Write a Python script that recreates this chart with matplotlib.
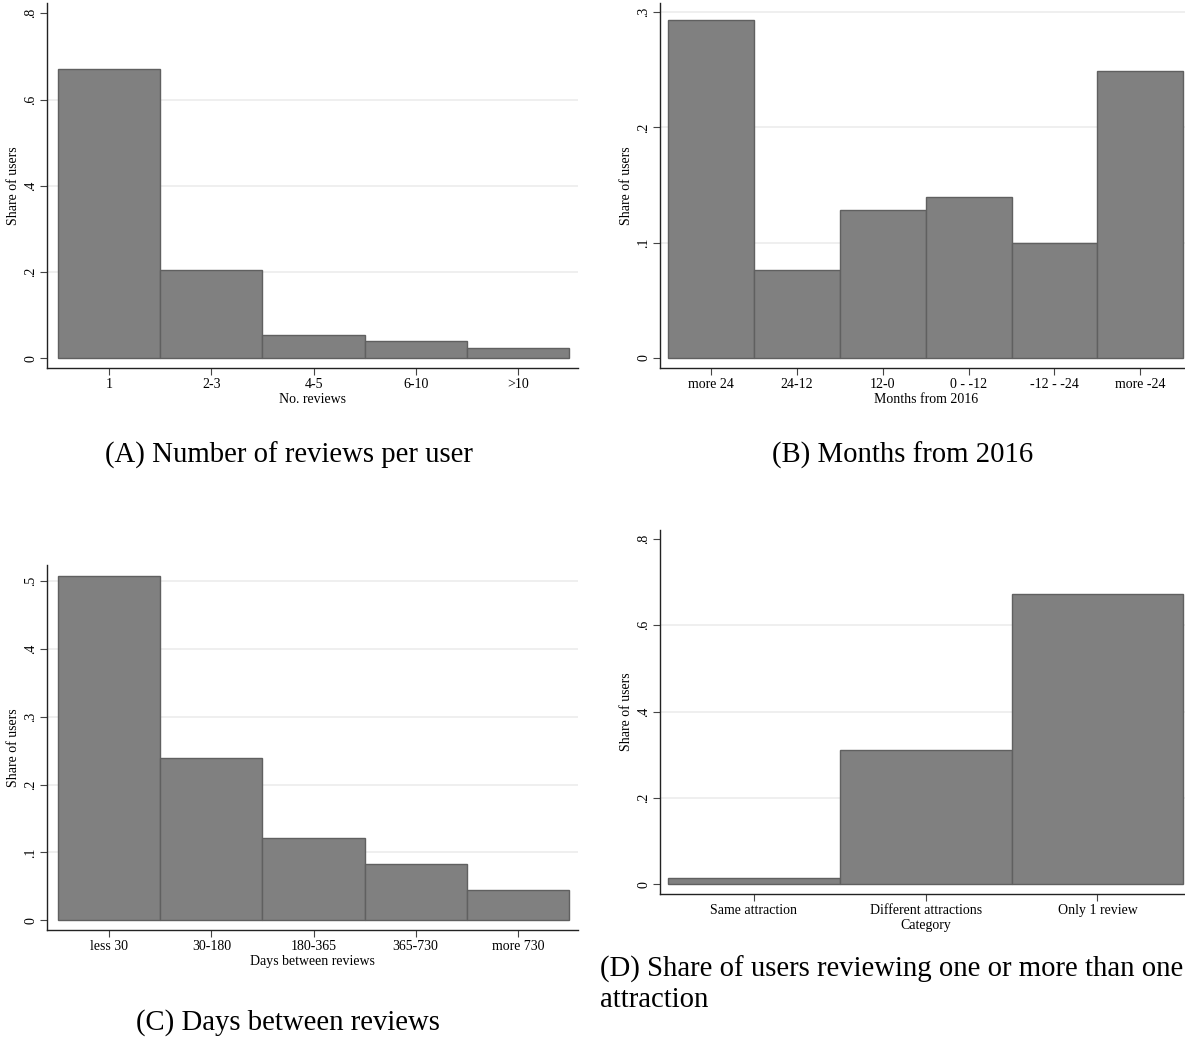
import matplotlib
matplotlib.use('Agg')
import matplotlib.pyplot as plt
import numpy as np

plt.rcParams['font.family'] = ['Liberation Serif', 'DejaVu Serif']

# share of users per bin, one list per panel
reviews_labels = ['1', '2-3', '4-5', '6-10', '>10']
reviews_share = [0.672, 0.205, 0.053, 0.039, 0.023]

months_labels = ['more 24', '24-12', '12-0', '0 - -12', '-12 - -24', 'more -24']
months_share = [0.293, 0.076, 0.128, 0.140, 0.100, 0.249]

days_labels = ['less 30', '30-180', '180-365', '365-730', 'more 730']
days_share = [0.508, 0.240, 0.121, 0.083, 0.045]

category_labels = ['Same attraction', 'Different attractions', 'Only 1 review']
category_share = [0.014, 0.311, 0.672]

W, H = 1185, 1037


def stata_label(v):
    if abs(v) < 1e-9:
        return '0'
    return ('%.1f' % v).lstrip('0')


def make_axes(fig, left, right, bottom, top):
    # pixel box -> figure fraction
    return fig.add_axes([left / W, 1 - bottom / H, (right - left) / W, (bottom - top) / H])


def draw_panel(ax, labels, shares, yticks, grid_ticks, xlabel, ylim, xpad_left, xpad_right):
    x = np.arange(len(labels))
    n = len(labels)
    ax.bar(x, shares, width=1.0, color='#808080', edgecolor='#606060', linewidth=1.0, zorder=3)
    for g in grid_ticks:
        ax.axhline(g, color='#ececec', linewidth=1.2, zorder=1)
    ax.set_xlim(-0.5 - xpad_left, n - 0.5 + xpad_right)
    ax.set_ylim(*ylim)
    ax.set_xticks(x)
    ax.set_xticklabels(labels, fontsize=10)
    ax.set_yticks(yticks)
    ax.set_yticklabels([stata_label(v) for v in yticks], fontsize=10, rotation=90, va='center')
    ax.set_xlabel(xlabel, fontsize=10, labelpad=1.5)
    ax.set_ylabel('Share of users', fontsize=10, labelpad=3)
    for side in ['top', 'right']:
        ax.spines[side].set_visible(False)
    for side in ['left', 'bottom']:
        ax.spines[side].set_color('#222222')
        ax.spines[side].set_linewidth(1.0)
    ax.tick_params(axis='both', direction='out', length=5, width=0.8, color='#444444', pad=2)
    ax.set_facecolor('white')


def main():
    fig = plt.figure(figsize=(W / 100, H / 100), dpi=100)
    fig.patch.set_facecolor('white')

    # (A) reviews per user
    ax_a = make_axes(fig, 47, 578, 368, 3)
    draw_panel(ax_a, reviews_labels, reviews_share, [0, 0.2, 0.4, 0.6, 0.8], [0.2, 0.4, 0.6],
               'No. reviews', (-0.023, 0.824), 0.11, 0.09)

    # (B) months from 2016
    ax_b = make_axes(fig, 660, 1192, 368, 3)
    draw_panel(ax_b, months_labels, months_share, [0, 0.1, 0.2, 0.3], [0.1, 0.2, 0.3],
               'Months from 2016', (-0.0087, 0.308), 0.09, 0.1)

    # (C) days between reviews
    ax_c = make_axes(fig, 47, 578, 930, 565)
    draw_panel(ax_c, days_labels, days_share, [0, 0.1, 0.2, 0.3, 0.4, 0.5], [0.1, 0.2, 0.3, 0.4, 0.5],
               'Days between reviews', (-0.0143, 0.524), 0.11, 0.09)

    # (D) same vs different attractions
    ax_d = make_axes(fig, 660, 1192, 894, 530)
    draw_panel(ax_d, category_labels, category_share, [0, 0.2, 0.4, 0.6, 0.8], [0.2, 0.4, 0.6],
               'Category', (-0.023, 0.821), 0.045, 0.05)

    # sub-captions
    cap = dict(fontsize=20.7, va='baseline')
    fig.text(289 / W, 1 - 463 / H, '(A) Number of reviews per user', ha='center', **cap)
    fig.text(903 / W, 1 - 463 / H, '(B) Months from 2016', ha='center', **cap)
    fig.text(288 / W, 1 - 1030 / H, '(C) Days between reviews', ha='center', **cap)
    fig.text(600 / W, 1 - 977 / H, '(D) Share of users reviewing one or more than one', ha='left', **cap)
    fig.text(600 / W, 1 - 1007 / H, 'attraction', ha='left', **cap)

    fig.savefig('out.png', dpi=100)


if __name__ == "__main__":
    main()
